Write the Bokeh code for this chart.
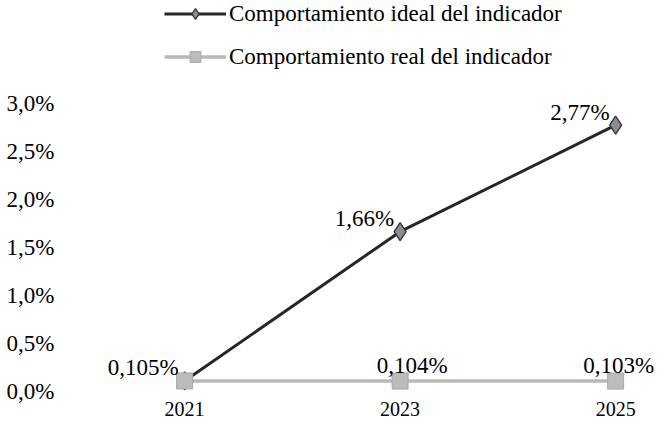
from bokeh.plotting import figure
from bokeh.models import (Range1d, FixedTicker, Legend, LegendItem, ColumnDataSource,
                          CDSView, IndexFilter)
from bokeh.core.properties import value
from bokeh.embed import file_html
from bokeh.resources import INLINE

years = [2021, 2023, 2025]
ideal = [0.105, 1.66, 2.77]
real = [0.105, 0.104, 0.103]
ideal_labels = ["0,105%", "1,66%", "2,77%"]
real_labels = ["", "0,104%", "0,103%"]
y_ticks = [0.0, 0.5, 1.0, 1.5, 2.0, 2.5, 3.0]
y_tick_labels = ["0,0%", "0,5%", "1,0%", "1,5%", "2,0%", "2,5%", "3,0%"]
x_tick_labels = ["2021", "2023", "2025"]
series_names = ["Comportamiento ideal del indicador", "Comportamiento real del indicador"]

FONT = "Liberation Serif"

p = figure(width=655, height=424, output_backend="svg", toolbar_location=None,
           x_range=Range1d(2019.96, 2025.37), y_range=Range1d(-0.0052, 4.068),
           min_border_left=72, min_border_right=0, min_border_top=0, min_border_bottom=33)
p.outline_line_color = None
p.xgrid.visible = False
p.ygrid.visible = False

src_ideal = ColumnDataSource(dict(x=years, y=ideal, t=ideal_labels))
src_real = ColumnDataSource(dict(x=years, y=real, t=real_labels))

l1 = p.line("x", "y", source=src_ideal, line_color="#262626", line_width=3)
m1 = p.scatter("x", "y", source=src_ideal, marker="diamond", size=18,
               fill_color="#8c8c8c", line_color="#333333", line_width=1.3)
l2 = p.line("x", "y", source=src_real, line_color="#b9b9b9", line_width=3.5)
m2 = p.scatter("x", "y", source=src_real, marker="square", size=16,
               fill_color="#bcbcbc", line_color="#a8a8a8", line_width=1)

txt = dict(text_font=value(FONT), text_font_size="23px", text_color="#000000",
           text_baseline="middle")
p.text("x", "y", text="t", source=src_ideal, text_align="right",
       x_offset=-6, y_offset=-13, **txt)
p.text("x", "y", text="t", source=src_real, view=CDSView(filter=IndexFilter([1])),
       text_align="center", x_offset=12, y_offset=-16, **txt)
p.text("x", "y", text="t", source=src_real, view=CDSView(filter=IndexFilter([2])),
       text_align="center", x_offset=3, y_offset=-16, **txt)

p.xaxis.ticker = FixedTicker(ticks=years)
p.xaxis.major_label_overrides = {y: t for y, t in zip(years, x_tick_labels)}
p.yaxis.ticker = FixedTicker(ticks=y_ticks)
p.yaxis.major_label_overrides = {v: t for v, t in zip(y_ticks, y_tick_labels)}

for ax in (p.xaxis[0], p.yaxis[0]):
    ax.axis_line_color = None
    ax.major_tick_line_color = None
    ax.minor_tick_line_color = None
    ax.major_tick_out = 0
    ax.minor_tick_out = 0
    ax.major_label_text_font = FONT
    ax.major_label_text_color = "#000000"
p.yaxis.major_label_text_font_size = "23px"
p.yaxis.major_label_standoff = 18
p.xaxis.major_label_text_font_size = "20px"
p.xaxis.major_label_standoff = 10

legend = Legend(items=[LegendItem(label=series_names[0], renderers=[l1, m1]),
                       LegendItem(label=series_names[1], renderers=[l2, m2])],
                location=(92, 321), orientation="vertical",
                glyph_width=62, glyph_height=27, label_height=27, spacing=16,
                padding=0, margin=0, label_standoff=3,
                label_text_font=FONT, label_text_font_size="23px", label_text_color="#000000",
                border_line_alpha=0, background_fill_alpha=0)
p.add_layout(legend)

open("out.html", "w").write(file_html(p, INLINE))
